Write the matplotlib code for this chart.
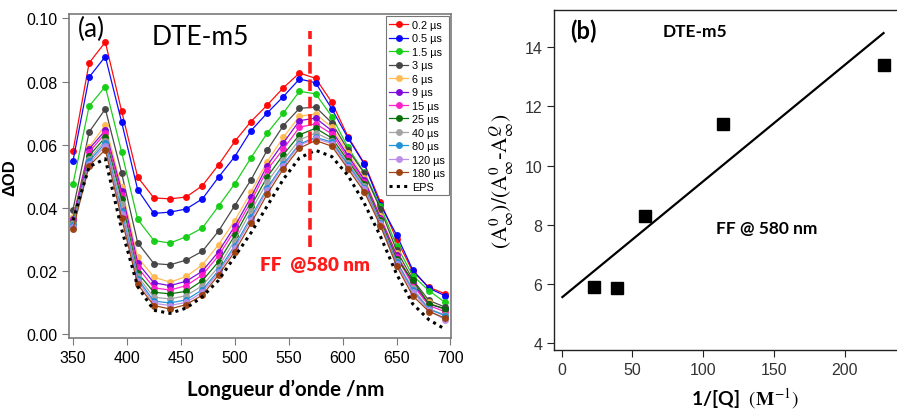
import numpy as np
import matplotlib.pyplot as plt
from matplotlib.lines import Line2D

# ---------------------------------------------------------------------------
# Data
# ---------------------------------------------------------------------------
wavelength = np.arange(350, 700, 15)  # 350, 365, ..., 695 nm

delay_labels = ["0.2 µs", "0.5 µs", "1.5 µs", "3 µs", "6 µs", "9 µs", "15 µs",
                "25 µs", "40 µs", "80 µs", "120 µs", "180 µs"]
delay_colors = ["#ff0000", "#0000ff", "#11cc11", "#404040", "#ffb84d", "#7a00d9",
                "#ff19c8", "#006b00", "#a0a0a0", "#1a8fd6", "#b98ae8", "#9a3d0a"]

od_0_2 = [.0579, .0859, .0925, .0708, .0497, .0431, .0428, .0434, .0470, .0536, .0610, .0673,
          .0725, .0780, .0827, .0810, .0734, .0625, .0541, .0419, .0300, .0198, .0148, .0127]
od_0_5 = [.0548, .0814, .0879, .0673, .0457, .0382, .0386, .0396, .0428, .0497, .0562, .0644,
          .0700, .0752, .0808, .0796, .0713, .0621, .0539, .0410, .0314, .0203, .0145, .0121]
od_1_5 = [.0475, .0722, .0784, .0578, .0363, .0296, .0288, .0308, .0336, .0405, .0476, .0558,
          .0636, .0700, .0769, .0761, .0689, .0591, .0512, .0405, .0280, .0185, .0137, .0100]
od_3 = [.0393, .0640, .0713, .0511, .0289, .0223, .0219, .0234, .0262, .0326, .0407, .0488,
        .0582, .0660, .0715, .0719, .0669, .0583, .0510, .0396, .0265, .0172, .0106, .0085]
od_6 = [.0370, .0592, .0662, .0465, .0243, .0180, .0164, .0182, .0219, .0283, .0359, .0449,
        .0546, .0623, .0690, .0697, .0655, .0573, .0495, .0373, .0255, .0165, .0100, .0075]
od_9 = [.0365, .0586, .0645, .0454, .0225, .0162, .0153, .0167, .0199, .0261, .0341, .0433,
        .0533, .0605, .0676, .0684, .0644, .0565, .0489, .0368, .0250, .0160, .0095, .0079]
od_15 = [.0360, .0576, .0636, .0441, .0211, .0146, .0139, .0153, .0187, .0248, .0328, .0419,
         .0520, .0586, .0655, .0666, .0634, .0557, .0482, .0363, .0245, .0155, .0090, .0070]
od_25 = [.0355, .0565, .0623, .0428, .0193, .0132, .0127, .0135, .0169, .0229, .0312, .0405,
         .0497, .0568, .0631, .0652, .0621, .0549, .0476, .0360, .0238, .0170, .0095, .0080]
od_40 = [.0350, .0555, .0613, .0412, .0183, .0116, .0111, .0121, .0153, .0213, .0296, .0389,
         .0481, .0551, .0615, .0637, .0613, .0542, .0470, .0355, .0230, .0145, .0080, .0060]
od_80 = [.0345, .0548, .0605, .0391, .0175, .0104, .0098, .0108, .0140, .0201, .0280, .0370,
         .0462, .0538, .0602, .0623, .0608, .0536, .0464, .0350, .0228, .0138, .0078, .0058]
od_120 = [.0340, .0540, .0597, .0380, .0168, .0097, .0090, .0100, .0132, .0195, .0272, .0362,
          .0455, .0532, .0598, .0620, .0603, .0530, .0460, .0347, .0222, .0132, .0075, .0045]
od_180 = [.0332, .0533, .0584, .0368, .0157, .0090, .0079, .0093, .0123, .0187, .0261, .0350,
          .0443, .0523, .0589, .0613, .0595, .0523, .0451, .0343, .0216, .0121, .0071, .0050]
od_eps = [.0360, .0530, .0555, .0333, .0150, .0075, .0065, .0082, .0118, .0170, .0245, .0320,
          .0405, .0490, .0558, .0582, .0562, .0502, .0415, .0310, .0190, .0095, .0045, .0015]

spectra = [od_0_2, od_0_5, od_1_5, od_3, od_6, od_9, od_15, od_25, od_40, od_80, od_120, od_180]

probe_nm = 570  # dashed marker line

# panel (b): Stern-Volmer-like plot
inv_q = [23, 39, 59, 114, 228]
ratio = [5.9, 5.85, 8.3, 11.4, 13.4]
fit_slope = 0.0393
fit_intercept = 5.54
fit_x = [0.5, 227.5]

# ---------------------------------------------------------------------------
# Figure
# ---------------------------------------------------------------------------
narrow = ["Liberation Sans Narrow", "Liberation Sans", "DejaVu Sans"]
arial = ["Liberation Sans", "DejaVu Sans"]
calibri = ["Lato", "DejaVu Sans"]
plt.rcParams["mathtext.fontset"] = "stix"

fig = plt.figure(figsize=(8.97, 4.10), dpi=100)

# ---- panel (a) ------------------------------------------------------------
ax = fig.add_axes([0.0769, 0.1724, 0.4259, 0.7910])
for vals, col, lab in zip(spectra, delay_colors, delay_labels):
    ax.plot(wavelength, vals, "-o", color=col, lw=0.9, ms=5, alpha=0.95, label=lab,
            markeredgewidth=0)
ax.plot(wavelength, od_eps, color="black", lw=2.2, ls=(0, (1, 1.4)), label="EPS")

ax.plot([probe_nm, probe_nm], [0.0276, 0.0960], color="#ff1a1a", lw=2.6, ls=(0, (3.2, 1.6)))
ax.text(574, 0.0219, "FF  @580 nm", color="#ff1a1a", fontsize=13.5, fontweight="heavy",
        ha="center", va="center", family=calibri)
ax.text(0.024, 0.954, "(a)", transform=ax.transAxes, fontsize=19, ha="left", va="center",
        family=calibri)
ax.text(0.343, 0.932, "DTE-m5", transform=ax.transAxes, fontsize=19, ha="center", va="center",
        family=calibri)

ax.set_xlim(346.3, 700.5)
ax.set_ylim(-0.0014, 0.1014)
ax.set_xticks(np.arange(350, 701, 50))
ax.set_yticks(np.arange(0, 0.101, 0.02))
ax.yaxis.set_major_formatter(plt.FormatStrFormatter("%.2f"))
for s in ax.spines.values():
    s.set_color("#7a7a7a")
    s.set_linewidth(1.2)
ax.tick_params(direction="out", length=5, color="#7a7a7a", labelsize=11.5)
for t in ax.get_xticklabels() + ax.get_yticklabels():
    t.set_family(narrow)
ax.set_xlabel("Longueur d’onde /nm", fontsize=14.8, fontweight="bold", family=calibri)
ax.xaxis.set_label_coords(0.568, -0.125)
ax.set_ylabel("ΔOD", fontsize=12, fontweight="bold", family=arial, labelpad=6)

leg = ax.legend(loc="upper right", fontsize=7.5, frameon=True, fancybox=False,
                edgecolor="#555555", labelspacing=0.32, handlelength=1.7, handletextpad=0.4,
                borderpad=0.35, borderaxespad=0.2, prop={"family": narrow, "size": 7.8})
leg.get_frame().set_linewidth(0.8)
for h in leg.legend_handles:
    if isinstance(h, Line2D) and h.get_marker() == "o":
        h.set_markersize(5)

# ---- panel (b) ------------------------------------------------------------
bx = fig.add_axes([0.618, 0.1439, 0.382, 0.8300])
bx.plot(inv_q, ratio, "s", color="black", ms=9)
fx = np.array(fit_x)
bx.plot(fx, fit_intercept + fit_slope * fx, color="black", lw=1.6)

bx.set_xlim(-5.2, 237)
bx.set_ylim(3.77, 15.27)
bx.set_xticks([0, 50, 100, 150, 200])
bx.set_yticks([4, 6, 8, 10, 12, 14])
bx.spines["right"].set_visible(False)
for s in bx.spines.values():
    s.set_color("#222222")
    s.set_linewidth(1.0)
bx.tick_params(direction="out", length=5, color="#222222", labelsize=11.5, labelcolor="#333333")
for t in bx.get_xticklabels() + bx.get_yticklabels():
    t.set_family(arial)

bx.set_ylabel(r"$(\mathrm{A}_{\infty}^{0})/(\mathrm{A}_{\infty}^{0}$-$\mathrm{A}_{\infty}^{Q})$",
              fontsize=15.5, labelpad=6)
bx.text(0.556, -0.139, r"1/[Q]  $(\mathbf{M}^{-1})$", transform=bx.transAxes, fontsize=14,
        fontweight="bold", ha="center", va="center", family=calibri)
bx.text(0.084, 0.94, "(b)", transform=bx.transAxes, fontsize=17, fontweight="bold",
        ha="center", va="center", family=calibri)
bx.text(0.41, 0.937, "DTE-m5", transform=bx.transAxes, fontsize=12.5, fontweight="bold",
        ha="center", va="center", family=calibri)
bx.text(0.62, 0.358, "FF @ 580 nm", transform=bx.transAxes, fontsize=12.5, fontweight="bold",
        ha="center", va="center", family=calibri)

fig.savefig("out.png", dpi=100)
